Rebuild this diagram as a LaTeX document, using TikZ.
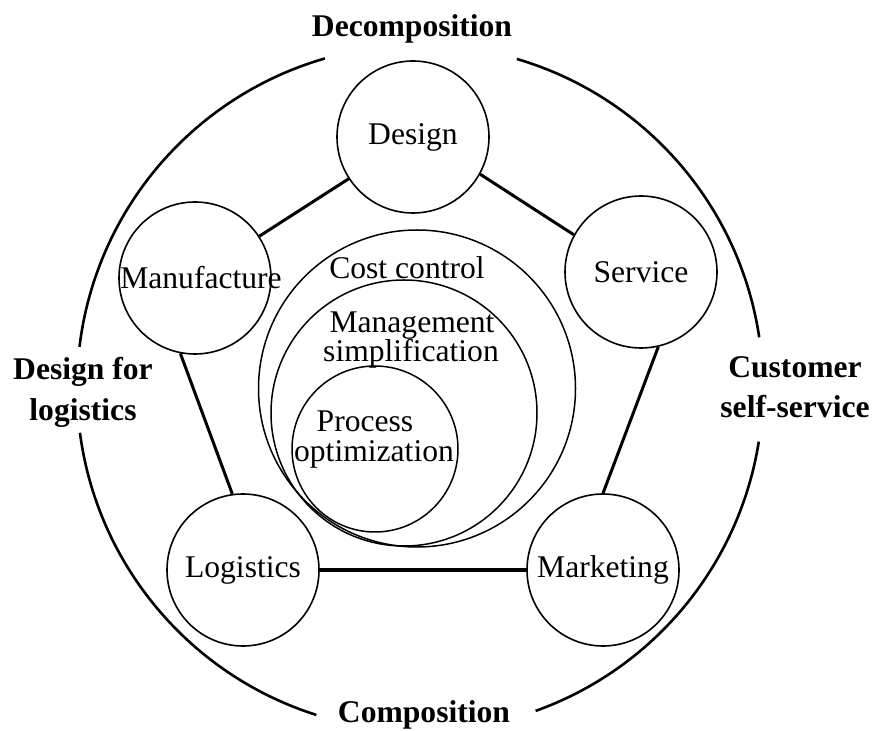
\documentclass[tikz,border=0pt]{standalone}
\usepackage{fontspec}
\setmainfont{Liberation Serif}
\begin{document}
\begin{tikzpicture}[x=1pt,y=1pt,
  bubble/.style={circle, draw, line width=1.6pt, minimum size=152pt, inner sep=0pt, font=\fontsize{31.6}{36}\selectfont},
  ring/.style={circle, draw, line width=1.5pt, inner sep=0pt},
  txt/.style={anchor=base, inner sep=0pt, font=\fontsize{31.6}{36}\selectfont},
  boldtxt/.style={anchor=base, inner sep=0pt, font=\fontsize{31.6}{36}\selectfont\bfseries},
  edgeline/.style={line width=3pt},
  rim/.style={line width=2.6pt}]
\useasboundingbox (0,0) rectangle (873,731);
% outer ring with gaps for the four labels
\coordinate (bigc) at (420,343);
\draw[rim] (bigc) ++(8.5:343) arc[start angle=8.5,end angle=73.6,radius=343];
\draw[rim] (bigc) ++(106.1:343) arc[start angle=106.1,end angle=173.1,radius=343];
\draw[rim] (bigc) ++(187.5:343) arc[start angle=187.5,end angle=252.4,radius=343];
\draw[rim] (bigc) ++(289.7:343) arc[start angle=289.7,end angle=351,radius=343];
% inner nested circles
\node[ring, minimum size=317pt] (cost) at (417,342.5) {};
\node[ring, minimum size=266pt] (mgmt) at (404,318) {};
\node[ring, minimum size=166pt] (proc) at (375,282) {};
% five function circles
\node[bubble] (des) at (413,594) {Design};
\node[bubble] (ser) at (641,459) {Service};
\node[bubble] (man) at (195,453) {\makebox[0pt]{\hspace*{12pt}Manufacture}};
\node[bubble] (log) at (243,161) {Logistics};
\node[bubble] (mar) at (603,161) {Marketing};
% pentagon edges
\draw[edgeline] (man.33) -- (des.213);
\draw[edgeline] (des.331) -- (ser.151);
\draw[edgeline] (ser.283) -- (mar.90);
\draw[edgeline] (man.259) -- (log.98);
\draw[edgeline, line width=3.6pt] (log.0) -- (mar.180);
% inner texts
\node[txt] (costt) at (407,452) {Cost control};
\node[txt] (mgmt1) at (412,398) {Management};
\node[txt] (mgmt2) at (411,369) {simplification};
\node[txt] (proc1) at (365,299) {Process};
\node[txt] (proc2) at (374,269) {optimization};
% outer labels
\node[boldtxt] (decomp) at (412,694) {Decomposition};
\node[boldtxt] (comp) at (424,8.5) {Composition};
\node[boldtxt] (dfl1) at (83,351) {Design for};
\node[boldtxt] (dfl2) at (83,310) {logistics};
\node[boldtxt] (css1) at (795,353) {Customer};
\node[boldtxt] (css2) at (795,313) {self-service};
\end{tikzpicture}
\end{document}
